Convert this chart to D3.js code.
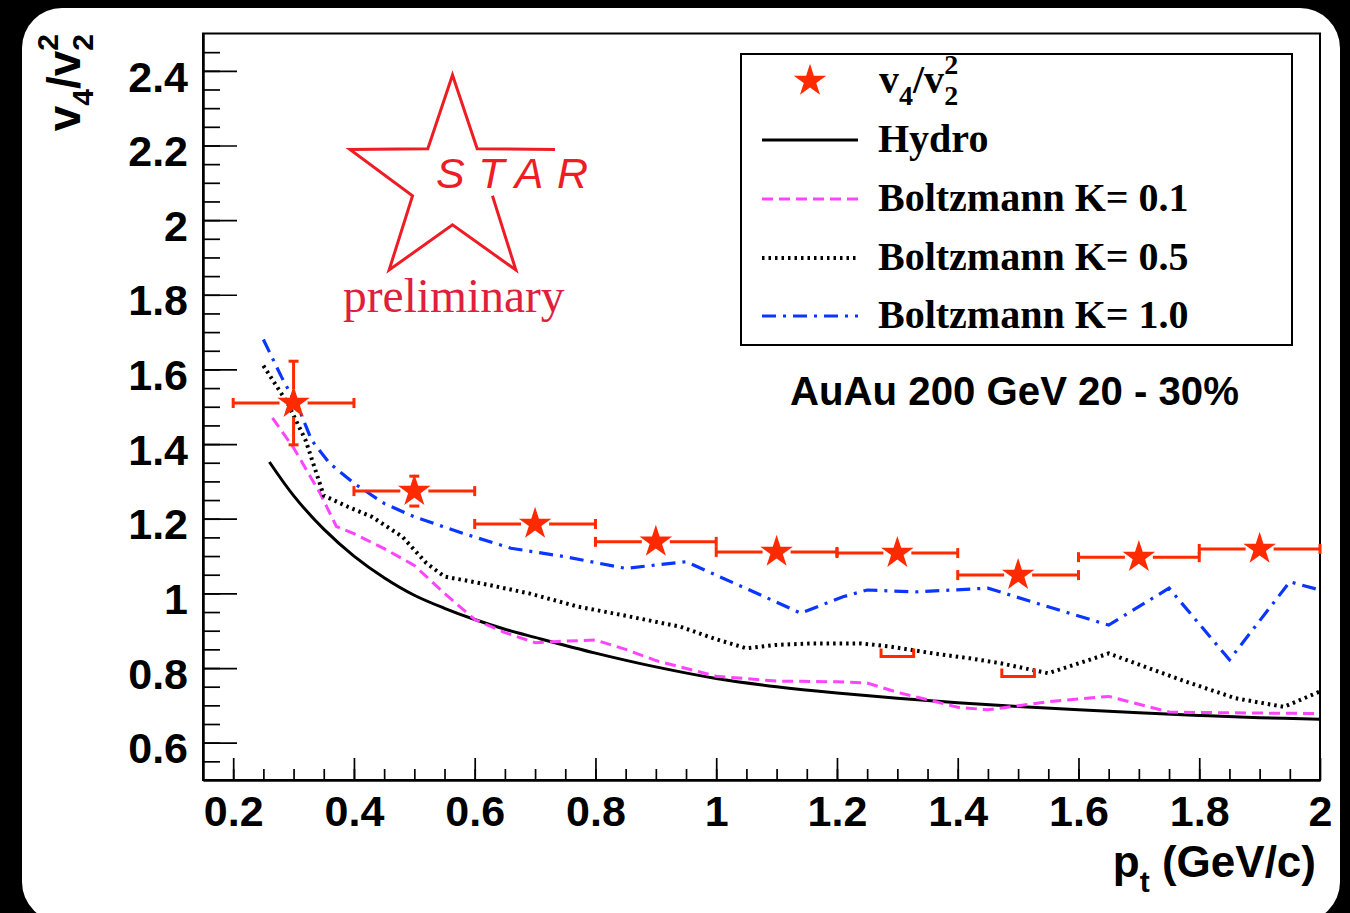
<!DOCTYPE html>
<html>
<head>
<meta charset="utf-8">
<script src="https://cdnjs.cloudflare.com/ajax/libs/d3/7.8.5/d3.min.js"></script>
<style>
  html, body { margin:0; padding:0; background:#000; overflow:hidden; }
  #chart { width:1350px; height:913px; }
</style>
</head>
<body>
<div id="chart"></div>
<script>
// ---- measured points (v4/v2^2 vs pt) ----
const ptBin     = [0.3, 0.5, 0.7, 0.9, 1.1, 1.3, 1.5, 1.7, 1.9];
const ptHalf    = [0.1, 0.1, 0.1, 0.1, 0.1, 0.1, 0.1, 0.1, 0.1];
const ratio     = [1.51, 1.274, 1.186, 1.138, 1.111, 1.108, 1.049, 1.097, 1.119];
const ratioErr  = [0.112, 0.04, 0.02, 0.02, 0.02, 0.02, 0.02, 0.02, 0.02];

// lower systematic brackets
const sysPt   = [1.3, 1.5];
const sysLow  = [0.831, 0.777];
const sysHalf = 0.027;

// ---- model curves ----
const hydroPt = [0.26,0.30,0.35,0.40,0.45,0.50,0.55,0.60,0.65,0.70,0.80,0.90,1.00,1.10,1.20,1.30,1.40,1.50,1.60,1.70,1.80,1.90,2.00];
const hydroV  = [1.352,1.262,1.172,1.10,1.042,0.995,0.960,0.930,0.904,0.882,0.840,0.803,0.772,0.750,0.733,0.719,0.707,0.697,0.688,0.680,0.673,0.667,0.663];

const k01Pt = [0.265,0.30,0.344,0.371,0.40,0.45,0.50,0.55,0.60,0.65,0.70,0.75,0.80,0.85,0.90,1.00,1.10,1.20,1.25,1.30,1.40,1.45,1.55,1.65,1.75,1.85,2.00];
const k01V  = [1.47,1.39,1.268,1.179,1.16,1.12,1.075,1.00,0.93,0.895,0.868,0.872,0.875,0.85,0.82,0.778,0.765,0.763,0.76,0.735,0.695,0.688,0.71,0.724,0.682,0.68,0.678];

const k05Pt = [0.25,0.29,0.32,0.35,0.39,0.43,0.48,0.52,0.55,0.61,0.69,0.77,0.85,0.94,1.00,1.05,1.10,1.16,1.24,1.29,1.36,1.42,1.47,1.55,1.65,1.77,1.86,1.94,2.00];
const k05V  = [1.61,1.51,1.41,1.262,1.232,1.205,1.152,1.081,1.045,1.027,1.00,0.965,0.94,0.911,0.877,0.853,0.862,0.866,0.866,0.857,0.839,0.826,0.813,0.786,0.839,0.768,0.719,0.696,0.737];

const k10Pt = [0.25,0.28,0.31,0.33,0.36,0.40,0.45,0.50,0.58,0.66,0.75,0.85,0.95,1.03,1.08,1.14,1.21,1.25,1.33,1.45,1.55,1.65,1.75,1.85,1.95,2.00];
const k10V  = [1.68,1.58,1.49,1.41,1.348,1.295,1.241,1.205,1.161,1.121,1.098,1.067,1.085,1.027,0.991,0.947,0.991,1.009,1.004,1.014,0.964,0.915,1.014,0.822,1.031,1.009];

// ---- axis ticks ----
const xMajor = [0.2,0.4,0.6,0.8,1.0,1.2,1.4,1.6,1.8,2.0];
const xMinor = d3.range(0, 38).map(i => +(0.15 + i*0.05).toFixed(2)).filter(v => v > 0.15 && v < 2.0);
const yMajor = [0.6,0.8,1.0,1.2,1.4,1.6,1.8,2.0,2.2,2.4];
const yMinor = d3.range(0, 41).map(i => +(0.5 + i*0.05).toFixed(2)).filter(v => v > 0.5 && v < 2.5);

const legendLabels = ["Hydro", "Boltzmann K= 0.1", "Boltzmann K= 0.5", "Boltzmann K= 1.0"];

const RED = "#ff2a00";
const sans = "'Liberation Sans', Arial, Helvetica, sans-serif";
const serif = "'Liberation Serif', 'Times New Roman', serif";

const W = 1350, H = 913;
const margin = {left: 203, top: 33.5, right: 30, bottom: 133};

const svg = d3.select("#chart").append("svg").attr("width", W).attr("height", H);

svg.append("rect").attr("width", W).attr("height", H).attr("fill", "#000");
svg.append("rect").attr("x", 22).attr("y", 8).attr("width", 1318).attr("height", 914)
  .attr("rx", 40).attr("ry", 40).attr("fill", "#fff");

const x = d3.scaleLinear().domain([0.15, 2.0]).range([margin.left, W - margin.right]);
const y = d3.scaleLinear().domain([0.5, 2.5]).range([H - margin.bottom, margin.top]);

// frame
svg.append("rect")
  .attr("x", x(0.15)).attr("y", y(2.5))
  .attr("width", x(2.0) - x(0.15)).attr("height", y(0.5) - y(2.5))
  .attr("fill", "none").attr("stroke", "#000").attr("stroke-width", 2);

// axes
const fmt = d => d3.format("~g")(d);
svg.append("g").attr("transform", `translate(0,${y(0.5)})`)
  .call(d3.axisBottom(x).tickValues(xMajor).tickSize(-22).tickSizeOuter(0).tickPadding(15).tickFormat(fmt));
svg.append("g").attr("transform", `translate(0,${y(0.5)})`)
  .call(d3.axisBottom(x).tickValues(xMinor).tickSize(-11).tickSizeOuter(0).tickFormat(""));
const gy = svg.append("g").attr("transform", `translate(${x(0.15)},0)`)
  .call(d3.axisLeft(y).tickValues(yMajor).tickSize(-34).tickSizeOuter(0).tickPadding(15).tickFormat(fmt));
svg.append("g").attr("transform", `translate(${x(0.15)},0)`)
  .call(d3.axisLeft(y).tickValues(yMinor).tickSize(-17).tickSizeOuter(0).tickFormat(""));

svg.selectAll(".domain").attr("stroke", "#000").attr("stroke-width", 2);
svg.selectAll(".tick line").attr("stroke", "#000").attr("stroke-width", 1.7);
svg.selectAll(".tick text")
  .attr("font-family", sans).attr("font-weight", "bold").attr("font-size", 43).attr("fill", "#000");
gy.selectAll(".tick text").attr("dy", "0.47em");

// axis titles
const yt = svg.append("text")
  .attr("transform", "translate(80,34) rotate(-90)")
  .attr("text-anchor", "end")
  .attr("font-family", sans).attr("font-weight", "bold").attr("font-size", 46).attr("fill", "#000");
yt.append("tspan").text("v");
yt.append("tspan").attr("font-size", 30).attr("dy", 13).text("4");
yt.append("tspan").attr("dy", -13).text("/v");
yt.append("tspan").attr("font-size", 30).attr("dy", 13).text("2");
yt.append("tspan").attr("font-size", 30).attr("dx", -16.7).attr("dy", -35).text("2");

const xt = svg.append("text")
  .attr("x", 1316).attr("y", 877)
  .attr("text-anchor", "end")
  .attr("font-family", sans).attr("font-weight", "bold").attr("font-size", 44).attr("fill", "#000");
xt.append("tspan").text("p");
xt.append("tspan").attr("font-size", 30).attr("dy", 15).text("t");
xt.append("tspan").attr("dy", -15).text(" (GeV/c)");

// STAR preliminary logo
const starPath = (cx, cy, R, r) => d3.range(10).map(k => {
  const a = (-90 + 36 * k) * Math.PI / 180, rad = k % 2 ? r : R;
  return [cx + rad * Math.cos(a), cy + rad * Math.sin(a)];
});
const logo = starPath(452.5, 182.8, 107.8, 42);
const logoOrder = [3,4,5,6,7,8,9,0,1,2].map(i => logo[i]);
svg.append("path").attr("d", d3.line()(logoOrder))
  .attr("fill", "none").attr("stroke", "#ee1d25").attr("stroke-width", 3).attr("stroke-linejoin", "miter");
svg.append("text").attr("x", 436).attr("y", 188)
  .attr("font-family", sans).attr("font-style", "italic").attr("font-size", 43)
  .attr("letter-spacing", 13.5).attr("fill", "#ee1d25").text("STAR");
svg.append("text").attr("x", 343).attr("y", 312)
  .attr("font-family", serif).attr("font-size", 47.5).attr("fill", "#df1f3c").text("preliminary");

// model curves
const plot = svg.append("g");
function curve(pts, vals, color, width, dash, shape) {
  const data = pts.map((p, i) => [p, vals[i]]);
  plot.append("path").datum(data)
    .attr("d", d3.line().x(d => x(d[0])).y(d => y(d[1])).curve(shape || d3.curveLinear))
    .attr("fill", "none").attr("stroke", color).attr("stroke-width", width)
    .attr("stroke-dasharray", dash);
}
const styles = [
  {color: "#000", width: 3, dash: null},
  {color: "#ff44ff", width: 3, dash: "11,6"},
  {color: "#000", width: 4, dash: "2.5,4"},
  {color: "#0a36ff", width: 3.2, dash: "14,7,3,7"}
];
curve(hydroPt, hydroV, styles[0].color, styles[0].width, styles[0].dash, d3.curveCatmullRom);
curve(k01Pt, k01V, styles[1].color, styles[1].width, styles[1].dash);
curve(k05Pt, k05V, styles[2].color, styles[2].width, styles[2].dash);
curve(k10Pt, k10V, styles[3].color, styles[3].width, styles[3].dash);

// systematic lower brackets
const sysG = svg.append("g").attr("stroke", RED).attr("stroke-width", 3).attr("fill", "none");
sysPt.forEach((p, i) => {
  const x0 = x(p - sysHalf), x1 = x(p + sysHalf), yy = y(sysLow[i]);
  sysG.append("path").attr("d", `M${x0},${yy - 8}V${yy}H${x1}V${yy - 8}`);
});

// data points with error bars
const star = d3.symbol().type(d3.symbolStar).size(330);
const gap = 14, cap = 5;
const pts = svg.append("g");
ptBin.forEach((p, i) => {
  const cx = x(p), cy = y(ratio[i]);
  const xl = x(p - ptHalf[i]), xr = x(p + ptHalf[i]);
  const yt_ = y(ratio[i] + ratioErr[i]), yb = y(ratio[i] - ratioErr[i]);
  const g = pts.append("g").attr("stroke", RED).attr("stroke-width", 3).attr("fill", "none");
  g.append("line").attr("x1", xl).attr("x2", cx - gap).attr("y1", cy).attr("y2", cy);
  g.append("line").attr("x1", cx + gap).attr("x2", xr).attr("y1", cy).attr("y2", cy);
  g.append("line").attr("x1", xl).attr("x2", xl).attr("y1", cy - cap).attr("y2", cy + cap);
  g.append("line").attr("x1", xr).attr("x2", xr).attr("y1", cy - cap).attr("y2", cy + cap);
  if (cy - yt_ > gap) {
    g.append("line").attr("x1", cx).attr("x2", cx).attr("y1", yt_).attr("y2", cy - gap);
    g.append("line").attr("x1", cx).attr("x2", cx).attr("y1", cy + gap).attr("y2", yb);
    g.append("line").attr("x1", cx - cap).attr("x2", cx + cap).attr("y1", yt_).attr("y2", yt_);
    g.append("line").attr("x1", cx - cap).attr("x2", cx + cap).attr("y1", yb).attr("y2", yb);
  }
  pts.append("path").attr("d", star).attr("transform", `translate(${cx},${cy})`).attr("fill", RED);
});

// legend
const lg = svg.append("g");
lg.append("rect").attr("x", 741).attr("y", 54).attr("width", 551).attr("height", 291)
  .attr("fill", "#fff").attr("stroke", "#000").attr("stroke-width", 2);
lg.append("path").attr("d", star).attr("transform", "translate(810,81)").attr("fill", RED);
const lt = lg.append("text").attr("x", 879).attr("y", 93)
  .attr("font-family", serif).attr("font-weight", "bold").attr("font-size", 40).attr("fill", "#000");
lt.append("tspan").text("v");
lt.append("tspan").attr("font-size", 28).attr("dy", 12).text("4");
lt.append("tspan").attr("dy", -12).text("/v");
lt.append("tspan").attr("font-size", 28).attr("dy", 12).text("2");
lt.append("tspan").attr("font-size", 28).attr("dx", -14).attr("dy", -31).text("2");

const rowY = [140, 199, 258, 316];
legendLabels.forEach((lab, i) => {
  lg.append("line").attr("x1", 762).attr("x2", 858).attr("y1", rowY[i]).attr("y2", rowY[i])
    .attr("stroke", styles[i].color).attr("stroke-width", styles[i].width)
    .attr("stroke-dasharray", styles[i].dash);
  lg.append("text").attr("x", 878).attr("y", rowY[i] + 12)
    .attr("font-family", serif).attr("font-weight", "bold").attr("font-size", 40).attr("fill", "#000")
    .text(lab);
});

svg.append("text").attr("x", 790).attr("y", 405)
  .attr("font-family", sans).attr("font-weight", "bold").attr("font-size", 40.2).attr("fill", "#000")
  .text("AuAu 200 GeV 20 - 30%");
</script>
</body>
</html>
